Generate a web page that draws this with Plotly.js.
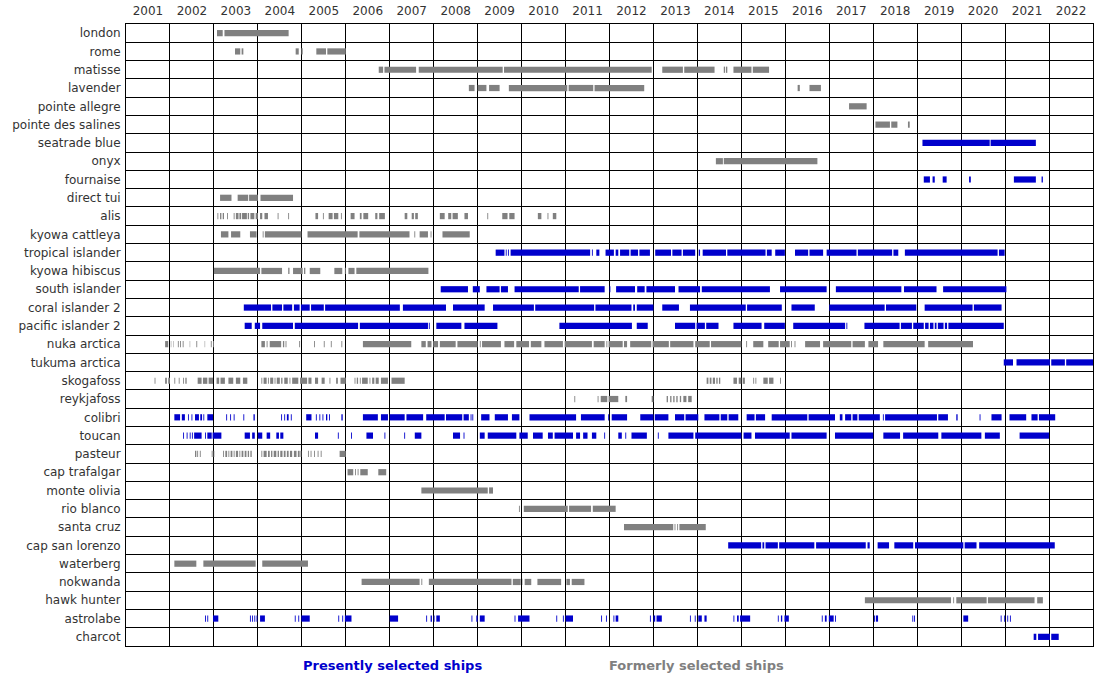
<!DOCTYPE html>
<html>
<head>
<meta charset="utf-8">
<script src="https://cdn.plot.ly/plotly-3.0.1.min.js"></script>
<style>html,body{margin:0;padding:0;background:#fff;}#chart{width:1099px;height:679px;}</style>
</head>
<body>
<div id="chart"></div>
<script>
// ---- data (years as decimal, [start, end]) ----
const years = [2001,2002,2003,2004,2005,2006,2007,2008,2009,2010,2011,2012,2013,2014,2015,2016,2017,2018,2019,2020,2021,2022];

const shipNames = ['london','rome','matisse','lavender','pointe allegre','pointe des salines','seatrade blue','onyx','fournaise','direct tui','alis','kyowa cattleya','tropical islander','kyowa hibiscus','south islander','coral islander 2','pacific islander 2','nuka arctica','tukuma arctica','skogafoss','reykjafoss','colibri','toucan','pasteur','cap trafalgar','monte olivia','rio blanco','santa cruz','cap san lorenzo','waterberg','nokwanda','hawk hunter','astrolabe','charcot'];

const presentShips = ['seatrade blue','fournaise','tropical islander','south islander','coral islander 2','pacific islander 2','tukuma arctica','colibri','toucan','cap san lorenzo','astrolabe','charcot'];

const london = [[2003.07,2003.2],[2003.24,2004.7]];
const rome = [[2003.48,2003.6],[2003.63,2003.67],[2004.86,2004.93],[2004.99,2005.02],[2005.33,2005.55],[2005.58,2006.0]];
const matisse = [[2006.75,2006.85],[2006.88,2007.6],[2007.66,2009.57],[2009.6,2012.96],[2013.2,2013.67],[2013.7,2014.39],[2014.6,2014.63],[2014.65,2014.68],[2014.82,2015.23],[2015.26,2015.63]];
const lavender = [[2008.8,2008.93],[2009.0,2009.2],[2009.26,2009.5],[2009.71,2011.04],[2011.07,2011.63],[2011.66,2012.79],[2016.28,2016.33],[2016.55,2016.81]];
const pointeAllegre = [[2017.45,2017.85]];
const pointeDesSalines = [[2018.05,2018.38],[2018.41,2018.55],[2018.79,2018.83]];
const seatradeBlue = [[2019.12,2020.65],[2020.67,2021.7]];
const onyx = [[2014.42,2014.58],[2014.6,2016.73]];
const fournaise = [[2019.15,2019.29],[2019.35,2019.4],[2019.58,2019.67],[2020.18,2020.22],[2021.2,2021.7],[2021.83,2021.86]];
const directTui = [[2003.14,2003.4],[2003.54,2003.78],[2003.8,2004.0],[2004.06,2004.8]];
const alis = [[2003.08,2003.1],[2003.14,2003.17],[2003.2,2003.23],[2003.3,2003.32],[2003.45,2003.47],[2003.5,2003.56],[2003.58,2003.62],[2003.64,2003.75],[2003.77,2003.8],[2003.83,2003.92],[2003.95,2004.0],[2004.05,2004.1],[2004.15,2004.23],[2004.45,2004.47],[2004.69,2004.71],[2005.31,2005.37],[2005.48,2005.5],[2005.61,2005.7],[2005.73,2005.83],[2005.89,2005.91],[2006.11,2006.2],[2006.32,2006.36],[2006.4,2006.51],[2006.67,2006.72],[2006.76,2006.89],[2007.34,2007.4],[2007.5,2007.55],[2007.58,2007.64],[2008.14,2008.25],[2008.33,2008.4],[2008.43,2008.55],[2008.7,2008.78],[2009.22,2009.24],[2009.56,2009.68],[2009.72,2009.84],[2010.37,2010.45],[2010.59,2010.61],[2010.71,2010.79]];
const kyowaCattleya = [[2003.16,2003.33],[2003.39,2003.6],[2003.82,2003.97],[2004.11,2004.13],[2004.16,2004.99],[2005.13,2006.27],[2006.31,2007.45],[2007.56,2007.58],[2007.68,2007.87],[2007.93,2007.95],[2008.2,2008.82]];
const tropicalIslander = [[2009.41,2009.61],[2009.64,2009.66],[2009.69,2009.71],[2009.75,2011.56],[2011.6,2011.62],[2011.7,2011.77],[2011.91,2012.1],[2012.14,2012.2],[2012.24,2012.45],[2012.48,2012.65],[2012.68,2012.92],[2013.04,2013.4],[2013.43,2013.64],[2013.67,2013.95],[2014.03,2014.06],[2014.12,2014.65],[2014.68,2015.55],[2015.58,2015.69],[2015.77,2015.99],[2016.22,2016.52],[2016.55,2016.86],[2016.94,2017.62],[2017.65,2018.43],[2018.46,2018.57],[2018.72,2020.83],[2020.86,2020.99]];
const kyowaHibiscus = [[2003.0,2004.05],[2004.08,2004.55],[2004.69,2004.72],[2004.8,2005.02],[2005.05,2005.08],[2005.18,2005.42],[2005.74,2005.92],[2005.98,2006.0],[2006.06,2006.2],[2006.24,2007.88]];
const southIslander = [[2008.16,2008.78],[2008.89,2009.05],[2009.2,2009.5],[2009.53,2009.69],[2009.84,2011.3],[2011.33,2011.89],[2012.0,2012.02],[2012.15,2012.58],[2012.63,2012.8],[2012.84,2013.49],[2013.57,2014.06],[2014.1,2015.65],[2015.88,2016.94],[2017.15,2018.64],[2018.7,2019.44],[2019.59,2021.03]];
const coralIslander2 = [[2003.68,2004.3],[2004.33,2004.55],[2004.58,2004.78],[2004.82,2004.95],[2004.98,2005.18],[2005.21,2005.5],[2005.53,2007.23],[2007.3,2008.28],[2008.44,2009.16],[2009.35,2010.28],[2010.31,2011.65],[2011.68,2012.5],[2012.54,2012.58],[2012.62,2013.0],[2013.2,2013.58],[2013.83,2015.1],[2015.13,2015.92],[2016.14,2016.67],[2017.0,2018.26],[2018.29,2018.98],[2019.17,2020.26],[2020.29,2020.92]];
const pacificIslander2 = [[2003.7,2003.86],[2003.93,2004.05],[2004.1,2004.8],[2004.84,2006.28],[2006.32,2007.87],[2007.89,2007.91],[2008.06,2008.63],[2008.7,2009.45],[2010.86,2012.51],[2012.62,2012.87],[2013.49,2013.95],[2013.98,2014.17],[2014.2,2014.48],[2014.82,2015.46],[2015.52,2015.99],[2016.18,2017.36],[2017.39,2017.41],[2017.8,2018.6],[2018.63,2018.88],[2018.91,2019.15],[2019.18,2019.26],[2019.29,2019.37],[2019.4,2019.44],[2019.47,2019.6],[2019.63,2019.68],[2019.71,2020.97]];
const nukaArctica = [[2001.89,2001.96],[2002.02,2002.03],[2002.07,2002.08],[2002.18,2002.2],[2002.23,2002.25],[2002.29,2002.31],[2002.45,2002.46],[2002.6,2002.62],[2002.79,2002.8],[2002.93,2002.95],[2002.98,2003.0],[2004.08,2004.16],[2004.2,2004.22],[2004.27,2004.53],[2004.57,2004.6],[2004.63,2004.65],[2004.94,2004.96],[2005.28,2005.3],[2005.5,2005.52],[2005.66,2005.68],[2005.9,2005.92],[2006.39,2007.49],[2007.72,2007.82],[2007.86,2007.95],[2007.99,2008.1],[2008.14,2008.5],[2008.54,2009.0],[2009.05,2009.07],[2009.1,2009.53],[2009.61,2009.83],[2009.88,2010.17],[2010.21,2010.45],[2010.52,2010.94],[2010.98,2011.6],[2011.64,2011.89],[2011.93,2011.95],[2011.98,2012.3],[2012.33,2012.4],[2012.47,2012.95],[2012.98,2013.35],[2013.38,2013.91],[2013.95,2014.28],[2014.31,2015.0],[2015.11,2015.13],[2015.27,2015.5],[2015.61,2015.85],[2015.88,2016.1],[2016.13,2016.15],[2016.21,2016.23],[2016.45,2016.79],[2016.86,2017.5],[2017.53,2017.81],[2017.89,2018.11],[2018.23,2019.17],[2019.25,2020.27]];
const tukumaArctica = [[2020.97,2021.18],[2021.26,2022.02],[2022.05,2022.36],[2022.39,2023.0]];
const skogafoss = [[2001.65,2001.67],[2001.89,2001.93],[2001.96,2002.0],[2002.1,2002.12],[2002.2,2002.22],[2002.3,2002.32],[2002.35,2002.38],[2002.63,2002.72],[2002.75,2002.85],[2002.88,2002.98],[2003.06,2003.12],[2003.15,2003.25],[2003.33,2003.44],[2003.5,2003.6],[2003.66,2003.76],[2004.08,2004.1],[2004.13,2004.2],[2004.23,2004.25],[2004.28,2004.35],[2004.38,2004.4],[2004.43,2004.5],[2004.53,2004.56],[2004.6,2004.68],[2004.72,2004.74],[2004.78,2004.92],[2004.96,2005.12],[2005.15,2005.22],[2005.3,2005.37],[2005.45,2005.52],[2005.63,2005.65],[2005.78,2005.82],[2005.88,2006.0],[2006.2,2006.22],[2006.25,2006.28],[2006.32,2006.34],[2006.37,2006.5],[2006.54,2006.56],[2006.6,2006.65],[2006.68,2006.75],[2006.8,2006.96],[2007.04,2007.34],[2014.21,2014.25],[2014.28,2014.32],[2014.35,2014.4],[2014.43,2014.46],[2014.49,2014.52],[2014.82,2014.9],[2014.94,2015.0],[2015.03,2015.08],[2015.27,2015.29],[2015.32,2015.34],[2015.5,2015.6],[2015.63,2015.73],[2015.88,2015.9]];
const reykjafoss = [[2011.2,2011.22],[2011.73,2011.75],[2011.8,2011.95],[2011.98,2012.2],[2012.36,2012.4],[2012.96,2013.0],[2013.3,2013.33],[2013.38,2013.41],[2013.45,2013.48],[2013.52,2013.55],[2013.6,2013.63],[2013.68,2013.75],[2013.79,2013.87]];
const colibri = [[2002.1,2002.23],[2002.27,2002.34],[2002.41,2002.43],[2002.49,2002.51],[2002.57,2002.66],[2002.69,2002.73],[2002.76,2002.78],[2002.85,2002.98],[2003.28,2003.3],[2003.37,2003.39],[2003.45,2003.47],[2003.67,2003.69],[2003.9,2003.93],[2004.53,2004.55],[2004.6,2004.62],[2004.66,2004.7],[2004.75,2004.77],[2005.1,2005.22],[2005.32,2005.34],[2005.4,2005.42],[2005.47,2005.49],[2005.55,2005.58],[2005.62,2005.64],[2005.9,2005.93],[2006.39,2006.73],[2006.8,2006.96],[2007.0,2007.34],[2007.38,2007.76],[2007.83,2008.25],[2008.28,2008.65],[2008.68,2008.8],[2008.84,2008.86],[2008.88,2008.9],[2009.08,2009.27],[2009.39,2009.69],[2009.78,2009.95],[2010.18,2011.24],[2011.35,2011.89],[2011.97,2011.99],[2012.05,2012.4],[2012.7,2013.0],[2013.03,2013.34],[2013.49,2013.7],[2013.73,2014.02],[2014.16,2014.5],[2014.53,2014.68],[2014.71,2014.93],[2015.12,2015.3],[2015.33,2015.54],[2015.69,2016.5],[2016.53,2017.13],[2017.24,2017.3],[2017.36,2017.5],[2017.53,2017.64],[2017.67,2018.15],[2018.22,2018.24],[2018.27,2019.45],[2019.48,2019.7],[2019.89,2019.92],[2020.42,2020.44],[2020.69,2020.92],[2021.1,2021.48],[2021.6,2021.74],[2021.77,2022.14]];
const toucan = [[2002.3,2002.32],[2002.38,2002.4],[2002.45,2002.47],[2002.5,2002.52],[2002.55,2002.72],[2002.8,2002.82],[2002.85,2002.95],[2002.97,2003.17],[2003.7,2003.82],[2003.87,2003.93],[2004.0,2004.1],[2004.2,2004.28],[2004.42,2004.48],[2004.51,2004.58],[2005.3,2005.37],[2005.82,2005.84],[2006.12,2006.14],[2006.47,2006.62],[2006.88,2006.9],[2007.33,2007.35],[2007.57,2007.72],[2008.44,2008.6],[2008.68,2008.7],[2009.05,2009.16],[2009.23,2009.88],[2009.95,2010.14],[2010.26,2010.48],[2010.6,2010.71],[2010.75,2011.17],[2011.24,2011.33],[2011.4,2011.5],[2011.6,2011.7],[2011.88,2011.9],[2012.2,2012.28],[2012.36,2012.38],[2012.5,2012.85],[2013.1,2013.12],[2013.34,2013.91],[2013.95,2015.0],[2015.05,2015.23],[2015.31,2016.1],[2016.14,2016.94],[2017.13,2018.0],[2018.23,2018.61],[2018.68,2019.48],[2019.55,2020.46],[2020.54,2020.88],[2021.33,2022.0]];
const pasteur = [[2002.57,2002.6],[2002.62,2002.64],[2002.68,2002.7],[2002.95,2002.97],[2002.99,2003.01],[2003.21,2003.23],[2003.26,2003.3],[2003.33,2003.35],[2003.38,2003.42],[2003.45,2003.47],[2003.5,2003.55],[2003.58,2003.6],[2003.63,2003.67],[2003.7,2003.74],[2003.77,2003.8],[2003.83,2003.86],[2004.08,2004.1],[2004.13,2004.2],[2004.23,2004.27],[2004.3,2004.33],[2004.36,2004.42],[2004.45,2004.48],[2004.51,2004.56],[2004.59,2004.63],[2004.66,2004.7],[2004.73,2004.78],[2004.82,2004.88],[2004.91,2004.95],[2004.97,2004.99],[2005.14,2005.16],[2005.2,2005.22],[2005.28,2005.3],[2005.36,2005.38],[2005.43,2005.45],[2005.86,2006.0]];
const capTrafalgar = [[2006.04,2006.17],[2006.21,2006.23],[2006.27,2006.29],[2006.33,2006.5],[2006.74,2006.92]];
const monteOlivia = [[2007.72,2009.23],[2009.26,2009.35]];
const rioBlanco = [[2009.94,2009.96],[2010.05,2011.05],[2011.08,2011.58],[2011.62,2012.14]];
const santaCruz = [[2012.33,2013.45],[2013.48,2013.5],[2013.54,2013.56],[2013.59,2014.19]];
const capSanLorenzo = [[2014.7,2015.45],[2015.48,2015.52],[2015.55,2015.83],[2015.86,2016.66],[2016.7,2017.83],[2017.87,2017.92],[2018.1,2018.36],[2018.48,2018.91],[2018.95,2020.05],[2020.08,2020.35],[2020.41,2022.13]];
const waterberg = [[2002.1,2002.6],[2002.76,2003.95],[2004.1,2005.14]];
const nokwanda = [[2006.36,2007.68],[2007.72,2007.74],[2007.89,2009.77],[2009.8,2009.98],[2010.02,2010.03],[2010.07,2010.22],[2010.36,2010.9],[2011.02,2011.1],[2011.14,2011.43]];
const hawkHunter = [[2017.81,2019.77],[2019.82,2019.84],[2019.89,2020.58],[2020.61,2021.67],[2021.73,2021.86]];
const astrolabe = [[2002.8,2002.82],[2002.85,2002.87],[2002.98,2003.1],[2003.82,2003.84],[2003.87,2003.89],[2003.92,2003.94],[2003.97,2003.99],[2004.05,2004.16],[2004.84,2004.86],[2004.92,2004.94],[2004.99,2005.18],[2005.83,2005.85],[2005.92,2005.94],[2005.98,2006.13],[2007.0,2007.19],[2007.83,2007.85],[2007.93,2007.96],[2008.0,2008.02],[2008.06,2008.14],[2008.86,2008.88],[2008.97,2009.0],[2009.05,2009.16],[2009.84,2009.86],[2009.92,2010.18],[2010.79,2010.81],[2010.94,2010.96],[2011.0,2011.17],[2011.81,2011.83],[2011.92,2011.94],[2012.09,2012.11],[2012.14,2012.2],[2012.92,2012.94],[2013.0,2013.04],[2013.07,2013.19],[2013.83,2013.85],[2013.94,2013.96],[2014.02,2014.1],[2014.16,2014.21],[2014.82,2014.84],[2014.9,2014.94],[2014.97,2015.2],[2015.83,2015.85],[2015.9,2015.93],[2015.98,2016.08],[2016.83,2016.85],[2016.9,2016.94],[2016.99,2017.1],[2017.13,2017.15],[2018.02,2018.04],[2018.06,2018.11],[2018.89,2018.91],[2018.93,2018.95],[2020.05,2020.16],[2020.9,2020.92],[2020.98,2021.0],[2021.05,2021.07],[2021.11,2021.13]];
const charcot = [[2021.65,2021.71],[2021.75,2022.02],[2022.05,2022.22]];

const legendPresent = 'Presently selected ships';
const legendFormer = 'Formerly selected ships';

// table built from the named arrays (same order as shipNames)
const periodTable = [london, rome, matisse, lavender, pointeAllegre, pointeDesSalines, seatradeBlue, onyx, fournaise, directTui, alis, kyowaCattleya, tropicalIslander, kyowaHibiscus, southIslander, coralIslander2, pacificIslander2, nukaArctica, tukumaArctica, skogafoss, reykjafoss, colibri, toucan, pasteur, capTrafalgar, monteOlivia, rioBlanco, santaCruz, capSanLorenzo, waterberg, nokwanda, hawkHunter, astrolabe, charcot];

// ---- build traces ----
const BLUE = '#0000cc', GRAY = '#808080';
const groups = {present: {y: [], base: [], x: []}, former: {y: [], base: [], x: []}};
shipNames.forEach((name, i) => {
  const g = presentShips.includes(name) ? groups.present : groups.former;
  periodTable[i].forEach(([s, e]) => { g.y.push(name); g.base.push(s); g.x.push(e - s); });
});
function barTrace(g, color) {
  return {type: 'bar', orientation: 'h', y: g.y, x: g.x, base: g.base, width: 0.34,
    marker: {color: color, line: {width: 0}}, hoverinfo: 'skip', showlegend: false};
}
const traces = [barTrace(groups.former, GRAY), barTrace(groups.present, BLUE)];

const layout = {
  width: 1099, height: 679,
  margin: {l: 126, r: 6, t: 24, b: 33, pad: 0},
  paper_bgcolor: '#ffffff', plot_bgcolor: '#ffffff',
  barmode: 'overlay',
  showlegend: false,
  font: {family: 'DejaVu Sans, sans-serif', size: 12, color: '#333333'},
  xaxis: {
    type: 'linear', range: [years[0], years[years.length - 1] + 1], side: 'top',
    tickmode: 'array', tickvals: years.map(y => y + 0.5), ticktext: years.map(String),
    ticks: '', showgrid: false, zeroline: false, ticklabelstandoff: 3,
    showline: true, mirror: true, linecolor: '#000000', linewidth: 1,
    minor: {tickmode: 'array', tickvals: years.concat([years[years.length - 1] + 1]), showgrid: true, gridcolor: '#000000', gridwidth: 1, ticks: ''},
    tickfont: {size: 12, color: '#333333'}, fixedrange: true
  },
  yaxis: {
    type: 'category', categoryorder: 'array', categoryarray: shipNames,
    range: [shipNames.length - 0.5, -0.5], tickson: 'boundaries',
    ticks: '', showgrid: true, gridcolor: '#000000', gridwidth: 1, zeroline: false,
    showline: true, mirror: true, linecolor: '#000000', linewidth: 1, ticklabelstandoff: 2,
    tickfont: {size: 12, color: '#333333'}, fixedrange: true
  },
  annotations: [
    {text: legendPresent, xref: 'paper', yref: 'paper', x: 0.276, xanchor: 'center', y: 0, yanchor: 'top', yshift: -10, showarrow: false,
     font: {family: 'DejaVu Sans, sans-serif', size: 13, color: BLUE, weight: 'bold'}},
    {text: legendFormer, xref: 'paper', yref: 'paper', x: 0.59, xanchor: 'center', y: 0, yanchor: 'top', yshift: -10, showarrow: false,
     font: {family: 'DejaVu Sans, sans-serif', size: 13, color: GRAY, weight: 'bold'}}
  ]
};

Plotly.newPlot('chart', traces, layout, {displayModeBar: false, staticPlot: true});
</script>
</body>
</html>
